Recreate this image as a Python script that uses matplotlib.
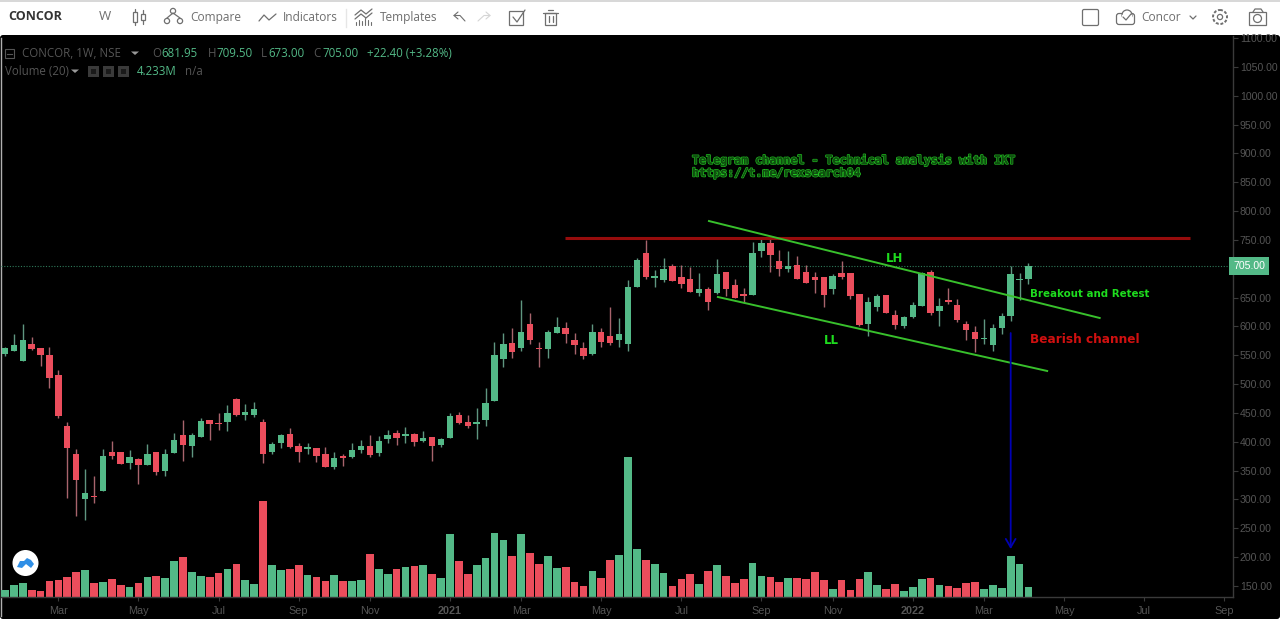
import matplotlib
matplotlib.use("Agg")
import matplotlib.pyplot as plt
from matplotlib.patches import Circle, FancyBboxPatch, Rectangle, Polygon
import matplotlib.patheffects as pe
import numpy as np

# Weekly candles
opens = [553,558,540,570,563,550,516,428,379,301,306,315,382,382,363,370,359,382,350,381,
         411,392,409,437,432,435,474,446,447,434,382,397,413,393,387,389,378,357,375,373,
         385,393,380,404,416,410,413,402,408,394,406,446,434,430,437,471,543,571,562,605,
         563,560,589,598,577,563,553,590,584,576,569,668,728,684,680,705,686,683,658,664,
         658,695,672,656,654,731,744,713,699,707,694,686,686,665,693,692,656,604,634,655,
         619,600,617,635,694,627,645,637,604,591,578,568,597,618,680,681.95]
highs = [564,586,604,582,563,564,524,435,388,353,340,387,401,382,385,371,396,382,388,415,
         437,415,441,437,449,463,475,465,469,440,400,414,424,397,397,389,391,383,379,398,
         403,412,410,420,420,425,416,419,409,406,449,452,446,458,493,573,589,598,645,623,
         573,594,616,608,588,573,605,598,633,614,680,718,749,698,719,709,706,703,692,669,
         716,695,683,666,746,754,757,732,730,722,706,695,686,691,713,692,656,651,657,655,
         628,618,642,695,697,649,666,648,609,600,613,604,624,705,692,709.5]
lows = [548,558,540,559,532,493,442,303,271,265,294,315,370,361,353,327,359,342,341,381,
        367,374,409,403,420,419,445,438,443,363,378,389,390,365,379,365,356,352,358,372,
        381,373,376,397,394,398,393,400,367,391,406,431,423,405,428,471,529,545,557,569,
        529,546,589,572,553,543,551,565,567,564,557,668,682,669,677,678,666,660,653,628,
        656,653,650,640,654,720,694,687,694,682,676,658,634,656,682,647,601,584,626,623,
        595,598,614,635,620,601,639,608,576,556,569,557,587,609,646,673]
closes = [563,567,576,560,550,510,444,389,333,311,304,376,376,361,374,360,379,348,378,403,
          394,412,436,430,430,450,447,452,456,379,396,411,391,383,391,375,357,371,372,386,
          393,377,401,411,407,414,400,406,393,405,445,432,427,435,468,550,570,556,591,576,
          560,590,599,587,567,549,590,573,571,587,669,715,686,688,699,678,674,660,664,643,
          690,665,650,653,728,744,723,700,705,683,676,680,654,688,686,653,602,642,653,624,
          602,616,637,693,623,636,642,611,594,579,580,598,618,690,683,705]
volumes = [3.2,5.1,6.2,3.0,2.5,7.1,7.5,8.5,10.7,11.6,6.2,6.6,7.8,5.2,4.4,5.9,8.5,8.9,8.2,15.5,
           17.1,10.7,8.9,8.5,10.5,11.9,14.1,7.3,5.5,40.8,13.7,11.6,11.9,13.7,9.6,8.5,7.1,9.6,7.1,6.9,
           7.5,18.2,12.1,10.0,12.1,12.9,13.3,13.7,9.9,8.1,26.7,15.5,9.9,13.7,16.7,27.1,24.4,17.4,26.7,18.9,
           14.0,17.4,12.6,13.0,6.6,4.8,11.0,8.1,16.0,17.8,59.3,20.3,16.0,14.0,10.3,4.8,7.6,9.9,5.5,11.0,
           13.7,9.2,6.2,7.6,14.4,9.2,8.8,6.5,8.3,8.3,7.6,10.9,7.2,3.5,7.2,3.2,7.6,10.9,5.4,3.5,
           5.8,2.5,4.2,7.6,8.1,5.4,4.9,3.8,6.2,6.5,3.5,5.4,3.8,17.4,14.0,4.233]

month_pos = [6,15,24,33,41,50,58,67,76,85,93,102,110,119,128,137]
month_labels = ["Mar","May","Jul","Sep","Nov","2021","Mar","May","Jul","Sep","Nov","2022","Mar","May","Jul","Sep"]
price_ticks = list(range(150, 1101, 50))

# Drawn trendlines: (bar, price) ends
resistance_x, resistance_y = [62.9, 133.1], [753, 753]
upper_x, upper_y = [79.1, 123.0], [782.7, 614.6]
lower_x, lower_y = [80.1, 117.1], [651, 522.7]
arrow_x, arrow_y = 113, [588.5, 214]

GREEN = "#53b987"
RED = "#eb4d5c"
GREY = "#555555"
LINE_GREEN = "#38c02c"
TEXT_GREEN = "#1edc1e"

plt.rcParams['font.family'] = ['Open Sans', 'DejaVu Sans']

fig = plt.figure(figsize=(12.8, 6.21), dpi=100, facecolor="white")

# Page chrome in pixel coordinates
chrome = fig.add_axes([0, 0, 1, 1], zorder=0)
chrome.set_xlim(0, 1280)
chrome.set_ylim(621, 0)
chrome.axis("off")
chrome.add_patch(Rectangle((0, 0), 1280, 1.5, color="#d8d8d8", lw=0))
chrome.add_patch(FancyBboxPatch((3, 38), 1274, 578, boxstyle="round,pad=3", fc="black", ec="none"))
chrome.plot([0.5, 0.5], [38, 616], color="#b0b0b0", lw=1)

def ctext(x, y, s, color="#6f6f6f", size=8.6, ha="left", **kw):
    chrome.text(x, y, s, color=color, fontsize=size, ha=ha, va="center", **kw)

def stroke(xs, ys, color="#6f6f6f", lw=0.9):
    chrome.plot(xs, ys, color=color, lw=lw, solid_capstyle="round")

# Toolbar
ctext(8, 17, "CONCOR", color="#333333", size=9, fontweight="bold", stretch="condensed")
ctext(105, 17, "W", size=9.5, ha="center")
ctext(190, 17.5, "Compare")
ctext(283, 17.5, "Indicators")
ctext(380, 17.5, "Templates")
ctext(1141, 17.5, "Concor")
chrome.plot([346, 346], [9, 27], color="#e6e6e6", lw=1)

# candle icon
for cx, y0, y1, t0, t1 in [(135, 12, 22, 9, 25), (143, 14, 20, 10, 24)]:
    chrome.add_patch(Rectangle((cx-2, y0), 4, y1-y0, fc="white", ec="#6f6f6f", lw=0.9))
    stroke([cx, cx], [t0, y0])
    stroke([cx, cx], [y1, t1])
# compare icon
for cx, cy in [(167, 21), (173, 11), (180, 21)]:
    chrome.add_patch(Circle((cx, cy), 2.6, fc="white", ec="#6f6f6f", lw=0.9))
stroke([167, 173, 180], [18, 13, 18])
# indicators icon
stroke([259, 264, 269, 276], [21, 15, 20, 14])
# templates icon
stroke([355, 361, 366, 372], [15, 10, 14, 9])
stroke([355, 361, 366, 372], [19, 14, 18, 13])
for k, h in enumerate([3, 5, 4, 7, 5, 3]):
    stroke([356+3*k, 356+3*k], [25-h, 25], lw=0.8)
# undo, redo
stroke([465, 460, 454], [21, 15.5, 15.5], lw=0.8)
stroke([458, 454, 458], [12, 15.5, 19], lw=0.8)
stroke([478, 484, 490], [21, 15.5, 15.5], color="#d5d5d5", lw=0.8)
stroke([486, 490, 486], [12, 15.5, 19], color="#d5d5d5", lw=0.8)
# check box
chrome.add_patch(Rectangle((509, 11), 14, 14, fc="white", ec="#6f6f6f", lw=0.9))
stroke([513, 517, 525], [17, 22, 10])
# trash
chrome.add_patch(Rectangle((545, 13), 11, 12, fc="white", ec="#6f6f6f", lw=0.9))
stroke([543, 558], [12.5, 12.5])
stroke([548, 553], [10, 10])
stroke([549, 549], [16, 22])
stroke([552.5, 552.5], [16, 22])
# right side icons
chrome.add_patch(FancyBboxPatch((1084, 11), 13, 13, boxstyle="round,pad=1.5", fc="white", ec="#6f6f6f", lw=0.9))
chrome.add_patch(FancyBboxPatch((1119, 16), 13, 6, boxstyle="round,pad=2.5", fc="white", ec="#6f6f6f", lw=0.9))
chrome.add_patch(Circle((1127, 15), 5, fc="white", ec="#6f6f6f", lw=0.9))
chrome.add_patch(Rectangle((1122, 15), 10, 6.5, fc="white", ec="none"))
stroke([1123, 1126, 1131], [17, 20, 14])
stroke([1190, 1193, 1196], [16, 19, 16])
chrome.add_patch(Circle((1220, 17), 7, fc="white", ec="#6f6f6f", lw=1.4, ls=(0, (1.5, 0.9))))
chrome.add_patch(Circle((1220, 17), 2.6, fc="white", ec="#6f6f6f", lw=0.9))
chrome.add_patch(Rectangle((1249, 12), 17, 13, fc="white", ec="#6f6f6f", lw=0.9))
stroke([1253, 1255, 1261, 1263], [12, 9, 9, 12])
chrome.add_patch(Circle((1257.5, 18.5), 4, fc="white", ec="#6f6f6f", lw=0.9))

# Legend rows
chrome.add_patch(Rectangle((5, 49), 9, 9, fc="none", ec="#555555", lw=0.8))
chrome.plot([7, 12], [53.5, 53.5], color="#555555", lw=0.8)
ctext(22, 53.7, "CONCOR, 1W, NSE", color=GREY, size=8.3)
chrome.add_patch(Polygon([[131, 51.5], [139, 51.5], [135, 55]], color="#999999", lw=0))
for x, lab, x2, val in [(152, "O", 161, "681.95"), (208, "H", 216, "709.50"), (261, "L", 268, "673.00"), (313, "C", 322, "705.00")]:
    ctext(x, 53.7, lab, color=GREY, size=8.3)
    ctext(x2, 53.7, val, color=GREEN, size=8.3)
ctext(367, 53.7, "+22.40 (+3.28%)", color=GREEN, size=8.3)
ctext(5, 71.7, "Volume (20)", color=GREY, size=8.3)
chrome.add_patch(Polygon([[71, 69.5], [79, 69.5], [75, 73]], color="#999999", lw=0))
for x in [88, 103, 118]:
    chrome.add_patch(Rectangle((x, 66), 11, 11, fc="#3a3a3a", ec="none"))
    chrome.add_patch(Rectangle((x+3, 69), 5, 5, fc="#1a1a1a", ec="none"))
ctext(137, 71.7, "4.233M", color=GREEN, size=8.3)
ctext(185, 71.7, "n/a", color=GREY, size=8.3)

# Logo
chrome.add_patch(Circle((25.5, 563), 13, fc="white", ec="none"))
chrome.add_patch(Polygon([[17, 567], [20, 561], [24, 561], [27, 558], [31, 560], [34, 564], [31, 568], [26, 564], [22, 568]],
                         color="#2f8fe6", lw=0))

# Chart axes; volume has its own scale under the candles
rect = [1/1280, (621-597.3)/621, 1232/1280, 561.3/621]
ax_vol = fig.add_axes(rect, zorder=1)
ax = fig.add_axes(rect, zorder=2)
ax_vol.axis("off")
ax.patch.set_visible(False)

n = len(closes)
idx = np.arange(n)
o = np.array(opens)
h = np.array(highs)
l = np.array(lows)
c = np.array(closes)
up = c >= o
colors = [GREEN if u else RED for u in up]
wick_colors = ["#5f9680" if u else "#a8646c" for u in up]

ax_vol.bar(idx, volumes, width=0.86, color=colors)
ax_vol.set_xlim(-0.449, 137.98)
ax_vol.set_ylim(0, 237.8)

ax.vlines(idx, l, h, colors=wick_colors, lw=1.0, zorder=2)
body_h = np.maximum(np.abs(c-o), 2.5)
ax.bar(idx, body_h, bottom=np.minimum(o, c), width=0.72, color=colors, zorder=3)

ax.set_xlim(-0.449, 137.98)
ax.set_ylim(130.3, 1103.5)

# Last price
ax.axhline(closes[-1], color="#2f7a5a", lw=0.8, ls=(0, (1, 1.5)), zorder=1)
ax.text(1.0, closes[-1], "705.00", transform=ax.get_yaxis_transform(), fontsize=7.6, color="white",
        family="Liberation Sans", va="center", ha="left", zorder=6, clip_on=False,
        bbox=dict(boxstyle="square,pad=0.36", fc=GREEN, ec="none"))

# Drawings
ax.plot(resistance_x, resistance_y, color="#960c0c", lw=2.2, zorder=4, solid_capstyle="butt")
ax.plot(upper_x, upper_y, color=LINE_GREEN, lw=1.4, zorder=4)
ax.plot(lower_x, lower_y, color=LINE_GREEN, lw=1.4, zorder=4)
ax.annotate("", xy=(arrow_x, arrow_y[1]), xytext=(arrow_x, arrow_y[0]),
            arrowprops=dict(arrowstyle="->,head_width=0.35,head_length=0.6", color="#0000b4", lw=1.3, shrinkA=0, shrinkB=0), zorder=5)

def note(i, price, s, color, size=8.5, ha="left"):
    ax.text(i, price, s, color=color, fontsize=size, fontweight="bold", family="DejaVu Sans", ha=ha, va="center", zorder=6)

note(99.95, 717.5, "LH", TEXT_GREEN, size=8.5, ha="center")
note(92.9, 575, "LL", TEXT_GREEN, size=8.5, ha="center")
note(115.2, 656, "Breakout and Retest", TEXT_GREEN, size=7.4)
note(115.2, 578, "Bearish channel", "#d01010", size=8.7)

for i, price, s in [(77.2, 888, "Telegram channel - Technical analysis with IKT"), (77.2, 866, "https://t.me/rexsearch04")]:
    t = ax.text(i, price, s, color="#0f4f0f", fontsize=8.4, family="DejaVu Sans Mono", fontweight="bold", ha="left", va="center", zorder=6)
    t.set_path_effects([pe.withStroke(linewidth=1.1, foreground="#22c022"), pe.Normal()])

# Axes styling
for side in ["top", "left"]:
    ax.spines[side].set_visible(False)
for side in ["right", "bottom"]:
    ax.spines[side].set_color("#3a3a3a")
    ax.spines[side].set_linewidth(1.0)
ax.yaxis.tick_right()
ax.set_yticks(price_ticks)
# the 700 label sits under the last price box
ax.set_yticklabels(["" if p == 700 else f"{p:.2f}" for p in price_ticks], fontsize=7.6, color=GREY, family="Liberation Sans")
ax.tick_params(axis="y", length=3.5, width=0.8, color="#3a3a3a", pad=1.5)
ax.set_xticks(month_pos)
ax.set_xticklabels(month_labels, fontsize=7.8, color=GREY, family="Liberation Sans")
ax.tick_params(axis="x", length=3, width=0.8, color="#3a3a3a", pad=3)
for lab in ax.get_xticklabels():
    if lab.get_text().startswith("20"):
        lab.set_fontweight("bold")

fig.savefig("out.png", dpi=100, facecolor="white")
